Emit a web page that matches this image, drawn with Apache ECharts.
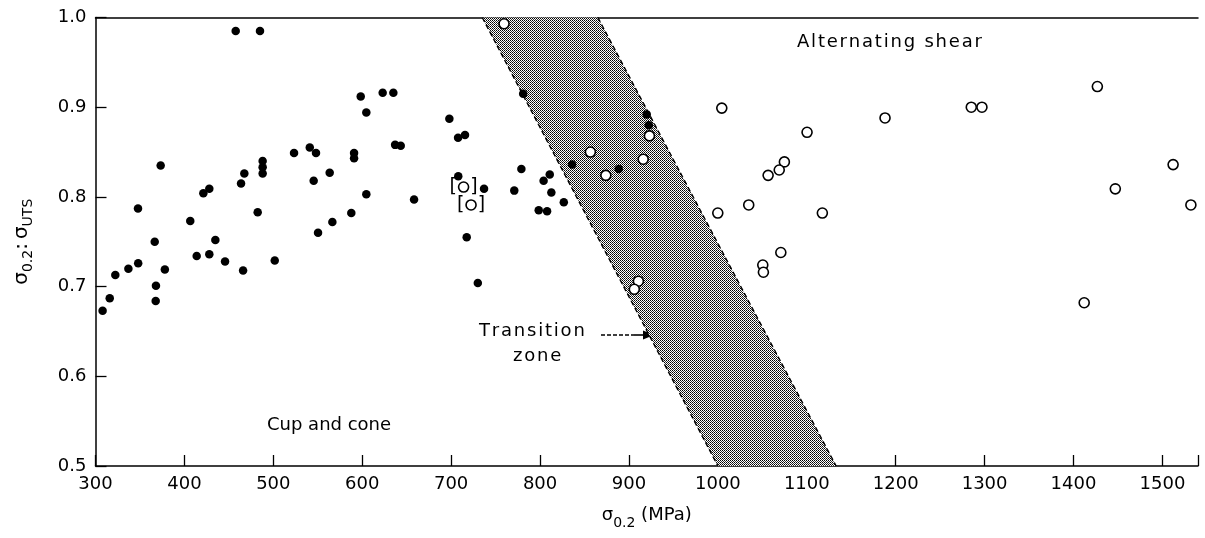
<!DOCTYPE html>
<html>
<head>
<meta charset="utf-8">
<script src="https://cdn.jsdelivr.net/npm/echarts@6/dist/echarts.min.js"></script>
<style>html,body{margin:0;padding:0;background:#fff}#c{width:1205px;height:538px}</style>
</head>
<body>
<div id="c"></div>
<script>
// ---- data ----
const xTickValues = [300,400,500,600,700,800,900,1000,1100,1200,1300,1400,1500];
const yTickValues = [0.5,0.6,0.7,0.8,0.9,1.0];
const cupConeX = [457.7,485,598.3,623,635,604.6,347.8,373.3,366.6,406.6,434.8,421.3,428,463.7,467.4,482.4,488,488,488,523.3,541,548,545.4,563.4,550.3,566.4,587.7,604.6,590.8,590.8,308,316,322.3,337,348,368,367.7,378,413.8,428,445.7,466,501.6,781,698,707.8,715.6,637,643.3,658.3,708,737,717.5,779,771,810.9,804,812.7,826.7,798.5,807.9,836,888.5,920,922.3,730];
const cupConeY = [0.985,0.985,0.912,0.916,0.916,0.894,0.787,0.835,0.750,0.773,0.752,0.804,0.809,0.815,0.826,0.783,0.840,0.833,0.826,0.849,0.855,0.849,0.818,0.827,0.760,0.772,0.782,0.803,0.849,0.843,0.673,0.687,0.713,0.720,0.726,0.701,0.684,0.719,0.734,0.736,0.728,0.718,0.729,0.915,0.887,0.866,0.869,0.858,0.857,0.797,0.823,0.809,0.755,0.831,0.807,0.825,0.818,0.805,0.794,0.785,0.784,0.836,0.831,0.892,0.880,0.704];
const shearX = [759.5,856.6,874,923,916,910.6,906,1004.4,1188,1100.3,1074.8,1069,1056.5,999.9,1034.7,1117.5,1070.8,1050.5,1051.2,1426.8,1285,1297,1512,1447,1532,1412];
const shearY = [0.993,0.850,0.824,0.868,0.842,0.706,0.697,0.899,0.888,0.872,0.839,0.830,0.824,0.782,0.791,0.782,0.738,0.724,0.716,0.923,0.900,0.900,0.836,0.809,0.791,0.682];
const bracketX = [714,722.4];
const bracketY = [0.811,0.791];
// transition zone polygon (left edge top->bottom, right edge top->bottom)
const bandLeftX = [735,1000];
const bandRightX = [865,1133];
const bandY = [1.0,0.5];

const zip = (a,b)=>a.map((v,i)=>[v,b[i]]);
const FONT = 'DejaVu Sans';
const spaced = s => s.split('').join('\u200A');

// stipple pattern
const pc = document.createElement('canvas');
pc.width = 2; pc.height = 2;
const pctx = pc.getContext('2d');
pctx.fillStyle = '#fff'; pctx.fillRect(0,0,2,2);
pctx.fillStyle = '#000'; pctx.fillRect(0,0,1,1);
pctx.fillStyle = '#333'; pctx.fillRect(1,1,1,1);

const chart = echarts.init(document.getElementById('c'), null, {renderer:'canvas'});
const bandData = [[bandLeftX[0],bandY[0]],[bandRightX[0],bandY[0]],[bandRightX[1],bandY[1]],[bandLeftX[1],bandY[1]]];

chart.setOption({
  animation:false,
  backgroundColor:'#fff',
  grid:{left:95.5,right:7,top:17.5,bottom:72},
  xAxis:[{
    type:'value',min:300,max:1540,interval:100,
    axisLine:{lineStyle:{color:'#000',width:1.5}},
    axisTick:{inside:true,length:11,lineStyle:{color:'#000',width:1.3}},
    splitLine:{show:false},
    axisLabel:{color:'#000',fontFamily:FONT,fontSize:18,margin:9,
      formatter:v=>xTickValues.indexOf(v)>=0?String(v):''},
    name:'{s|σ}{sub|0.2}{s| (MPa)}',
    nameLocation:'middle',nameGap:40,
    nameTextStyle:{rich:{
      s:{fontFamily:FONT,fontSize:18,color:'#000',verticalAlign:'top',padding:[0,0,0,0]},
      sub:{fontFamily:FONT,fontSize:14,color:'#000',verticalAlign:'top',padding:[10,0,0,0]}
    }}
  },{
    type:'value',min:300,max:1540,position:'top',
    axisLine:{show:true,onZero:false,lineStyle:{color:'#000',width:1.5}},
    axisTick:{show:false},axisLabel:{show:false},splitLine:{show:false}
  }],
  yAxis:{
    type:'value',min:0.5,max:1.0,interval:0.1,
    axisLine:{show:true,lineStyle:{color:'#000',width:1.5}},
    axisTick:{show:true,inside:true,length:11,lineStyle:{color:'#000',width:1.3}},
    splitLine:{show:false},
    axisLabel:{color:'#000',fontFamily:FONT,fontSize:18,margin:9,
      formatter:v=>{const m=yTickValues.find(t=>Math.abs(t-v)<1e-6);return m!==undefined?m.toFixed(1):'';}},
    name:'{s|σ}{sub|0.2}{s|:\u2009σ}{sub|UTS}',
    nameLocation:'middle',nameRotate:90,nameGap:60,
    nameTextStyle:{rich:{
      s:{fontFamily:FONT,fontSize:20,color:'#000',verticalAlign:'top'},
      sub:{fontFamily:FONT,fontSize:14,color:'#000',verticalAlign:'top',padding:[10,0,0,0]}
    }}
  },
  series:[
    {
      type:'custom',z:1,silent:true,
      data:bandData,
      renderItem:(params,api)=>{
        if(params.dataIndex!==0) return null;
        const pts = bandData.map(p=>api.coord(p));
        return {type:'group',children:[
          {type:'polygon',shape:{points:pts},style:{fill:{image:pc,repeat:'repeat'},stroke:null}},
          {type:'polyline',shape:{points:[pts[0],pts[3]]},style:{stroke:'#000',lineWidth:1.4,lineDash:[5,3],fill:null}},
          {type:'polyline',shape:{points:[pts[1],pts[2]]},style:{stroke:'#000',lineWidth:1.4,lineDash:[5,3],fill:null}}
        ]};
      },
      encode:{x:0,y:1}
    },
    {
      name:'Cup and cone',type:'scatter',z:3,
      data:zip(cupConeX,cupConeY),
      symbol:'circle',symbolSize:8.5,
      itemStyle:{color:'#000',opacity:1}
    },
    {
      name:'Alternating shear',type:'scatter',z:4,
      data:zip(shearX,shearY),
      symbol:'circle',symbolSize:10,
      itemStyle:{color:'#fff',borderColor:'#000',borderWidth:1.6,opacity:1}
    },
    {
      name:'bracketed',type:'scatter',z:4,
      data:zip(bracketX,bracketY),
      symbol:'circle',symbolSize:10,
      itemStyle:{color:'#fff',borderColor:'#000',borderWidth:1.6,opacity:1},
      label:{show:true,position:'inside',formatter:'[\u2002\u2009]',color:'#000',fontFamily:FONT,fontSize:19}
    }
  ],
  graphic:[
    {type:'text',left:797,top:33,style:{text:spaced('Alternating shear'),font:'18px "DejaVu Sans"',fill:'#000'}},
    {type:'text',left:267,top:416,style:{text:'Cup and cone',font:'18px "DejaVu Sans"',fill:'#000'}},
    {type:'text',left:479,top:322,style:{text:spaced('Transition'),font:'18px "DejaVu Sans"',fill:'#000'}},
    {type:'text',left:513,top:347,style:{text:spaced('zone'),font:'18px "DejaVu Sans"',fill:'#000'}},
    {type:'line',shape:{x1:601,y1:335,x2:634,y2:335},style:{stroke:'#000',lineWidth:1.5,lineDash:[4,2]}},
    {type:'line',shape:{x1:634,y1:335,x2:646,y2:335},style:{stroke:'#000',lineWidth:1.6}},
    {type:'polygon',shape:{points:[[643,330.5],[654,335],[643,339.5]]},style:{fill:'#000'}}
  ]
});
</script>
</body>
</html>
